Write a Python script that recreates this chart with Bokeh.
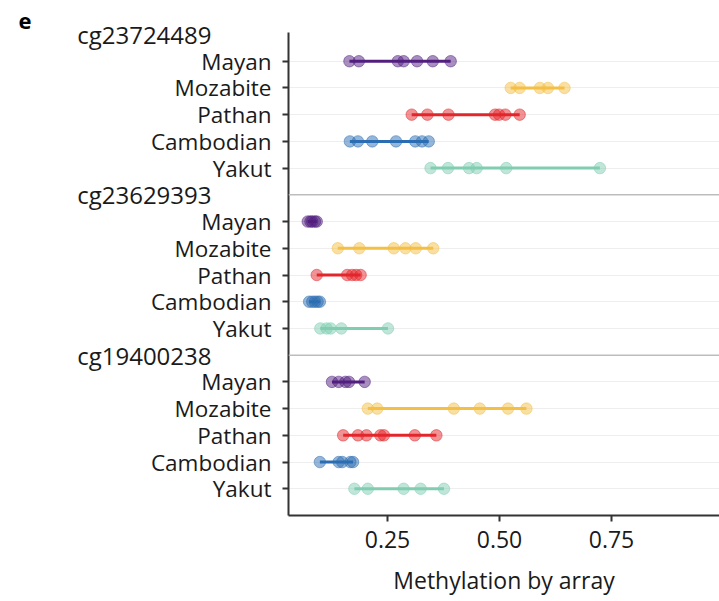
from bokeh.plotting import figure
from bokeh.models import (ColumnDataSource, Range1d, FixedTicker, Span, Title,
                          NumeralTickFormatter, LinearAxis)
from bokeh.embed import file_html
from bokeh.resources import INLINE

populations = ["Mayan", "Mozabite", "Pathan", "Cambodian", "Yakut"]
probes = ["cg23724489", "cg23629393", "cg19400238"]
pop_colors = ["#521f7f", "#f4bf45", "#e3262b", "#2b6db2", "#80cdb2"]
x_ticks = [0.25, 0.50, 0.75]

# probe cg23724489
cg23724489_mayan = [0.165, 0.186, 0.273, 0.286, 0.316, 0.351, 0.391]
cg23724489_mozabite = [0.525, 0.545, 0.590, 0.608, 0.645]
cg23724489_pathan = [0.304, 0.339, 0.386, 0.490, 0.499, 0.513, 0.545]
cg23724489_cambodian = [0.166, 0.184, 0.216, 0.269, 0.312, 0.327, 0.342]
cg23724489_yakut = [0.346, 0.385, 0.432, 0.449, 0.515, 0.724]

# probe cg23629393
cg23629393_mayan = [0.072, 0.078, 0.082, 0.088, 0.092]
cg23629393_mozabite = [0.139, 0.187, 0.264, 0.290, 0.313, 0.352]
cg23629393_pathan = [0.092, 0.160, 0.171, 0.180, 0.190]
cg23629393_cambodian = [0.075, 0.082, 0.088, 0.094, 0.099]
cg23629393_yakut = [0.100, 0.114, 0.123, 0.147, 0.251]

# probe cg19400238
cg19400238_mayan = [0.126, 0.141, 0.156, 0.164, 0.199]
cg19400238_mozabite = [0.206, 0.227, 0.398, 0.456, 0.519, 0.560]
cg19400238_pathan = [0.151, 0.184, 0.203, 0.234, 0.242, 0.311, 0.359]
cg19400238_cambodian = [0.099, 0.141, 0.149, 0.167, 0.173]
cg19400238_yakut = [0.176, 0.206, 0.286, 0.324, 0.376]

probe_values = [
    [cg23724489_mayan, cg23724489_mozabite, cg23724489_pathan, cg23724489_cambodian, cg23724489_yakut],
    [cg23629393_mayan, cg23629393_mozabite, cg23629393_pathan, cg23629393_cambodian, cg23629393_yakut],
    [cg19400238_mayan, cg19400238_mozabite, cg19400238_pathan, cg19400238_cambodian, cg19400238_yakut],
]

FONT = "Open Sans"
TEXT = "#1a1a1a"

p = figure(width=719, height=600, output_backend="svg", toolbar_location=None,
           x_range=Range1d(0.029, 0.991), y_range=Range1d(18.0, -0.075),
           min_border_left=288, min_border_right=0, min_border_top=32, min_border_bottom=85)
p.outline_line_color = None

seg = dict(x0=[], x1=[], y=[], color=[])
pts = dict(x=[], y=[], color=[])
row_ticks = []
overrides = {}
hdr_ticks = []
hdr_overrides = {}
for i, probe in enumerate(probes):
    base = 6 * i
    hdr_ticks.append(base)
    hdr_overrides[base] = probe
    for j, pop in enumerate(populations):
        r = base + 1 + j
        vals = probe_values[i][j]
        row_ticks.append(r)
        overrides[r] = pop
        seg["x0"].append(min(vals)); seg["x1"].append(max(vals))
        seg["y"].append(r); seg["color"].append(pop_colors[j])
        for v in vals:
            pts["x"].append(v); pts["y"].append(r); pts["color"].append(pop_colors[j])
    if i > 0:
        p.add_layout(Span(location=base, dimension="width", line_color="#bdbdbd", line_width=1.5))

p.segment(x0="x0", x1="x1", y0="y", y1="y", color="color", line_width=3,
          source=ColumnDataSource(seg))
p.scatter(x="x", y="y", color="color", size=11.5, fill_alpha=0.5, line_alpha=0.5,
          source=ColumnDataSource(pts))

p.xgrid.visible = False
p.ygrid.ticker = FixedTicker(ticks=row_ticks)
p.ygrid.grid_line_color = "#eeeeee"
p.ygrid.grid_line_width = 1

for ax in (p.xaxis[0], p.yaxis[0]):
    ax.axis_line_color = "#333333"
    ax.axis_line_width = 2
    ax.major_tick_line_color = "#333333"
    ax.major_tick_line_width = 2
    ax.major_tick_in = 0
    ax.major_tick_out = 6
    ax.minor_tick_line_color = None
    ax.major_label_text_font = FONT
    ax.major_label_text_color = TEXT

p.yaxis.ticker = FixedTicker(ticks=row_ticks)
p.yaxis.major_label_overrides = overrides
p.yaxis.major_label_standoff = 11
p.yaxis.major_label_text_font_size = "22.5px"

# probe headers: a second, bare axis on the left
hdr_axis = LinearAxis(ticker=FixedTicker(ticks=hdr_ticks), major_label_overrides=hdr_overrides)
hdr_axis.axis_line_color = None
hdr_axis.major_tick_line_color = None
hdr_axis.minor_tick_line_color = None
hdr_axis.major_tick_in = 0
hdr_axis.major_tick_out = 0
hdr_axis.major_label_standoff = -64
hdr_axis.major_label_text_font = FONT
hdr_axis.major_label_text_font_size = "24px"
hdr_axis.major_label_text_color = TEXT
p.add_layout(hdr_axis, "left")

p.xaxis.ticker = FixedTicker(ticks=x_ticks)
p.xaxis.formatter = NumeralTickFormatter(format="0.00")
p.xaxis.major_label_standoff = 9
p.xaxis.major_label_text_font_size = "23px"
p.xaxis.axis_label = "Methylation by array"
p.xaxis.axis_label_text_font = FONT
p.xaxis.axis_label_text_font_size = "23px"
p.xaxis.axis_label_text_font_style = "normal"
p.xaxis.axis_label_text_color = TEXT
p.xaxis.axis_label_standoff = 13

p.add_layout(Title(text="e", align="left", offset=-270, standoff=8, vertical_align="bottom",
                   text_font=FONT, text_font_size="22px", text_font_style="bold",
                   text_color="black"), "above")

open("out.html", "w").write(file_html(p, INLINE))
